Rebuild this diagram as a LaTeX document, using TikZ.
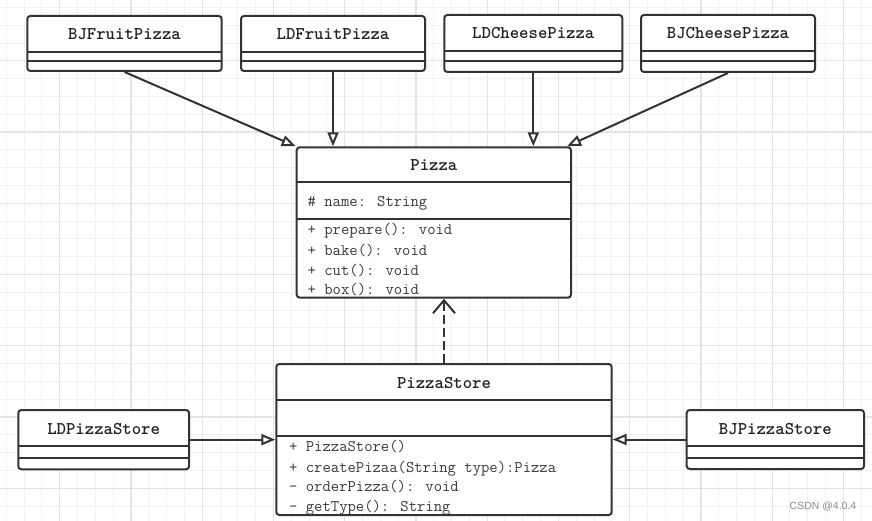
\documentclass[tikz,border=0pt]{standalone}
\usepackage{fontspec}
\newfontfamily\wmfont{Liberation Sans}
\usetikzlibrary{arrows.meta}
\definecolor{ink}{HTML}{333333}
\definecolor{txt}{HTML}{222222}
\definecolor{memc}{HTML}{3A3A3A}
\definecolor{gminor}{HTML}{F1F1F1}
\definecolor{gmajor}{HTML}{E4E4E4}
\begin{document}
\begin{tikzpicture}[x=1pt,y=-1pt,
  cls/.style={draw=ink, line width=2pt, rounded corners=3pt, fill=white, inner sep=0pt},
  divline/.style={draw=ink, line width=2pt},
  ttl/.style={font=\fontsize{17.9}{20}\selectfont\ttfamily\bfseries, text=txt, inner sep=0pt, anchor=base},
  mem/.style={font=\fontsize{16.2}{19.8}\selectfont\ttfamily, text=memc, inner sep=0pt, anchor=base west},
  inh/.style={draw=ink, line width=2pt, -{Triangle[open, length=14pt, width=11pt, fill=white]}},
  dep/.style={draw=ink, line width=2pt, dash pattern=on 9pt off 4pt, -{Straight Barb[length=13pt, width=22pt]}},
  gmin/.style={draw=gminor, line width=1pt},
  gmaj/.style={draw=gmajor, line width=1.2pt}
]
\useasboundingbox (0,0) rectangle (872,521);
\fill[white] (0,0) rectangle (872,521);
% grid
\foreach \i in {0,...,48} \draw[gmin] ({6.3+17.81*\i},0) -- ({6.3+17.81*\i},521);
\foreach \i in {0,...,28} \draw[gmin] (0,{7.4+17.81*\i}) -- (872,{7.4+17.81*\i});
\foreach \i in {0,...,11} \draw[gmaj] ({59.7+71.25*\i},0) -- ({59.7+71.25*\i},521);
\foreach \i in {0,...,6} \draw[gmaj] (0,{60.8+71.25*\i}) -- (872,{60.8+71.25*\i});

% ---- top row ----
\node[cls, minimum width=194.4pt, minimum height=55pt] (bjf) at (124.5,43.5) {};
\draw[divline] (27.3,52.3) -- (221.7,52.3);
\draw[divline] (27.3,61.3) -- (221.7,61.3);
\node[ttl] (bjft) at (124.5,40) {BJFruitPizza};

\node[cls, minimum width=184pt, minimum height=55pt] (ldf) at (333,43.5) {};
\draw[divline] (241,52.3) -- (425,52.3);
\draw[divline] (241,61.3) -- (425,61.3);
\node[ttl] (ldft) at (333,40) {LDFruitPizza};

\node[cls, minimum width=178pt, minimum height=57pt] (ldc) at (533.3,43.5) {};
\draw[divline] (444.3,51.3) -- (622.3,51.3);
\draw[divline] (444.3,61.3) -- (622.3,61.3);
\node[ttl] (ldct) at (533.3,39) {LDCheesePizza};

\node[cls, minimum width=174pt, minimum height=57pt] (bjc) at (728,43.5) {};
\draw[divline] (641,51.3) -- (815,51.3);
\draw[divline] (641,61.3) -- (815,61.3);
\node[ttl] (bjct) at (728,39) {BJCheesePizza};

% ---- Pizza ----
\node[cls, minimum width=274.3pt, minimum height=150.4pt] (pizza) at (433.85,222.5) {};
\draw[divline] (296.7,182.3) -- (571,182.3);
\draw[divline] (296.7,218.7) -- (571,218.7);
\node[ttl] (pizzat) at (433.85,170.7) {Pizza};
\node[mem] (pa) at (307.5,206.7) {\# name: String};
\node[mem] (pm1) at (307.5,235) {+ prepare(): void};
\node[mem] (pm2) at (307.5,255) {+ bake(): void};
\node[mem] (pm3) at (307.5,275) {+ cut(): void};
\node[mem] (pm4) at (307.5,294.5) {+ box(): void};

% ---- PizzaStore ----
\node[cls, minimum width=335.4pt, minimum height=151pt] (store) at (444,439.5) {};
\draw[divline] (276.3,400) -- (611.7,400);
\draw[divline] (276.3,435.7) -- (611.7,435.7);
\node[ttl] (storet) at (444,388.3) {PizzaStore};
\node[mem] (sm1) at (289,451.7) {+ PizzaStore()};
\node[mem] (sm2) at (289,472) {+ createPizaa(String type):Pizza};
\node[mem] (sm3) at (289,491.7) {- orderPizza(): void};
\node[mem] (sm4) at (289,511) {- getType(): String};

% ---- side stores ----
\node[cls, minimum width=170.7pt, minimum height=59.3pt] (ldps) at (103.65,439.65) {};
\draw[divline] (18.3,446.3) -- (189,446.3);
\draw[divline] (18.3,457.7) -- (189,457.7);
\node[ttl] (ldpst) at (103.65,434) {LDPizzaStore};

\node[cls, minimum width=177.3pt, minimum height=59pt] (bjps) at (775.35,439.5) {};
\draw[divline] (686.7,446.3) -- (864,446.3);
\draw[divline] (686.7,457.7) -- (864,457.7);
\node[ttl] (bjpst) at (775.35,434) {BJPizzaStore};

% ---- connectors ----
\draw[inh] (bjf.south) -- (pizza.north west);
\draw[inh] (ldf.south) -- (ldf.south |- pizza.north);
\draw[inh] (ldc.south) -- (ldc.south |- pizza.north);
\draw[inh] (bjc.south) -- ([xshift=-5pt]pizza.north east);
\draw[dep] (store.north) -- (store.north |- pizza.south);
\draw[inh] (ldps.east) -- (ldps.east -| store.west);
\draw[inh] (bjps.west) -- (bjps.west -| store.east);

% watermark
\node[font=\wmfont\fontsize{10.5}{12}\selectfont, text=black!45, inner sep=0pt] (wm) at (823,506.5) {CSDN @4.0.4};
\end{tikzpicture}
\end{document}
